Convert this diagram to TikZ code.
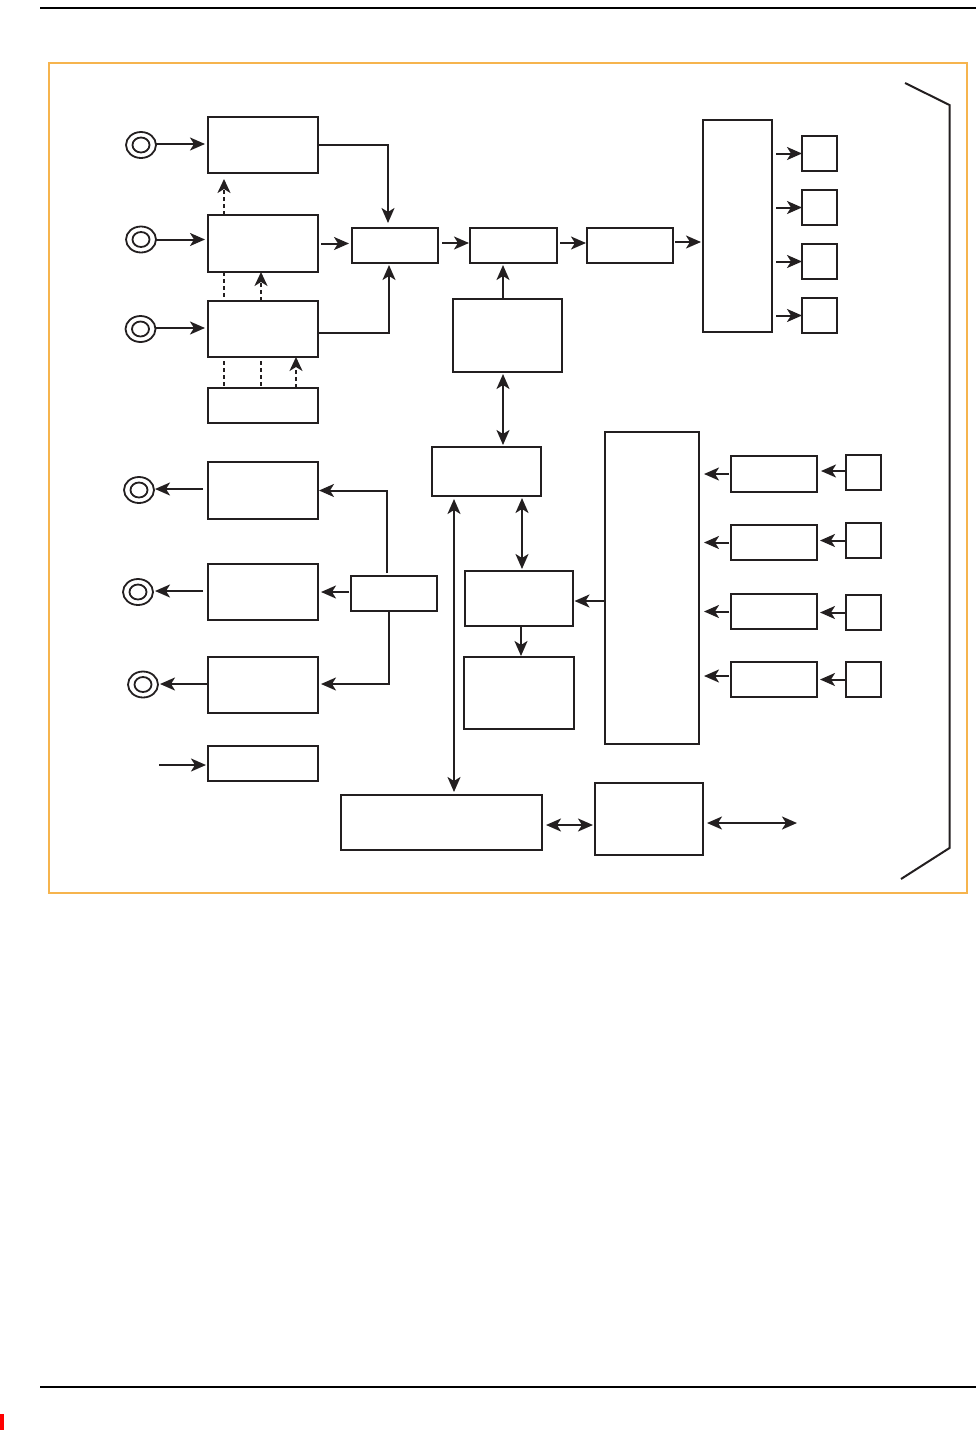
\documentclass[tikz,border=0pt]{standalone}
\usetikzlibrary{arrows.meta,shapes.geometric}
\definecolor{framecol}{HTML}{F6B44E}
\definecolor{inkcol}{HTML}{231F20}
\tikzset{
  blk/.style={draw=inkcol,line width=1.9pt,rectangle,inner sep=0pt,outer sep=0pt},
  ring/.style={draw=inkcol,line width=1.8pt,ellipse,inner sep=0pt,outer sep=0pt},
  link/.style={draw=inkcol,line width=2pt},
  arr/.style={link,-{Stealth[length=15pt,width=13pt,inset=4pt]}},
  dbl/.style={link,{Stealth[length=15pt,width=13pt,inset=4pt]}-{Stealth[length=15pt,width=13pt,inset=4pt]}},
  dsh/.style={line width=2pt,draw=inkcol,dash pattern=on 4pt off 3pt},
  darr/.style={dsh,-{Stealth[length=14pt,width=13pt,inset=4pt]}},
}
\newcommand{\bx}[5]{%
  \pgfmathsetmacro{\bw}{#4-#2}\pgfmathsetmacro{\bh}{#5-#3}%
  \pgfmathsetmacro{\bcx}{(#4+#2)/2}\pgfmathsetmacro{\bcy}{(#5+#3)/2}%
  \node[blk,minimum width=\bw pt,minimum height=\bh pt] (#1) at (\bcx,\bcy) {};}
\newcommand{\jack}[3]{%
  \node[ring,minimum width=30pt,minimum height=26pt] (#1) at (#2,#3) {};
  \node[ring,minimum width=17pt,minimum height=15pt] (#1i) at (#2,#3) {};}
\begin{document}
\begin{tikzpicture}[x=1pt,y=-1pt]
\useasboundingbox (0,0) rectangle (976,1430);
% page furniture
\coordinate (tl) at (40,8); \coordinate (tr) at (976,8);
\coordinate (bl) at (40,1387); \coordinate (br) at (976,1387);
\draw[black,line width=1.6pt] (tl) -- (tr);
\draw[black,line width=1.6pt] (bl) -- (br);
\fill[red] (0,1414) rectangle (4,1430);
\draw[framecol,line width=1.6pt] (49,63) rectangle (967,893);
% bracket
\coordinate (b1) at (905,83); \coordinate (b2) at (949.5,105);
\coordinate (b3) at (949.5,848); \coordinate (b4) at (901,879);
\draw[link] (b1) -- (b2) -- (b3) -- (b4);
% boxes
\bx{A}{208}{117}{318}{173}
\bx{B}{208}{215}{318}{272}
\bx{C}{208}{301}{318}{357}
\bx{D}{208}{388}{318}{423}
\bx{E}{208}{462}{318}{519}
\bx{F}{208}{564}{318}{620}
\bx{G}{208}{657}{318}{713}
\bx{H}{208}{746}{318}{781}
\bx{M}{352}{228}{438}{263}
\bx{N}{470}{228}{557}{263}
\bx{O}{587}{228}{673}{263}
\bx{P}{453}{299}{562}{372}
\bx{Q}{703}{120}{772}{332}
\bx{Ra}{802}{136}{837}{171}
\bx{Rb}{802}{190}{837}{225}
\bx{Rc}{802}{244}{837}{279}
\bx{Rd}{802}{298}{837}{333}
\bx{S}{432}{447}{541}{496}
\bx{T}{605}{432}{699}{744}
\bx{U}{465}{571}{573}{626}
\bx{V}{464}{657}{574}{729}
\bx{W}{351}{576}{437}{611}
\bx{X}{341}{795}{542}{850}
\bx{Y}{595}{783}{703}{855}
\bx{Za}{731}{456}{817}{492}
\bx{Zb}{731}{525}{817}{560}
\bx{Zc}{731}{594}{817}{629}
\bx{Zd}{731}{662}{817}{697}
\bx{Sa}{846}{455}{881}{490}
\bx{Sb}{846}{523}{881}{558}
\bx{Sc}{846}{595}{881}{630}
\bx{Sd}{846}{662}{881}{697}
% jacks
\jack{Ja}{141}{145}
\jack{Jb}{141}{239.5}
\jack{Jc}{140.5}{329}
\jack{Jd}{139}{490}
\jack{Je}{138}{592}
\jack{Jf}{143}{684.5}
% inputs
\draw[arr,shorten >=3pt] ([yshift=1pt]Ja.east) -- ([yshift=1pt]A.west |- Ja.east);
\draw[arr,shorten >=3pt] (Jb.east) -- (B.west |- Jb.east);
\draw[arr,shorten >=3pt] ([yshift=1pt]Jc.east) -- ([yshift=1pt]C.west |- Jc.east);
% to mixer
\draw[arr,shorten >=5pt] (A.east) -| ([xshift=-7pt]M.north);
\draw[arr,shorten <=3pt,shorten >=3pt] (B.east) -- (B.east -| M.west);
\draw[arr,shorten >=2pt] ([yshift=-4pt]C.east) -| ([xshift=-6pt]M.south);
% dashed
\draw[darr,shorten >=6pt] ([xshift=-39pt]A.south |- B.north) -- ([xshift=-39pt]A.south);
\draw[dsh] ([xshift=-39pt]B.south) -- ([xshift=-39pt]C.north);
\draw[darr] ([xshift=-2pt]C.north) -- ([xshift=-2pt]B.south);
\draw[dsh] ([xshift=-39pt,yshift=-4pt]C.south) -- ([xshift=-39pt]D.north);
\draw[dsh] ([xshift=-2pt,yshift=-4pt]C.south) -- ([xshift=-2pt]D.north);
\draw[darr] ([xshift=33pt]D.north) -- ([xshift=33pt]C.south);
% chain
\draw[arr,shorten <=4pt,shorten >=1pt] ([yshift=2.5pt]M.east) -- ([yshift=2.5pt]N.west);
\draw[arr,shorten <=3pt,shorten >=1pt] ([yshift=2.5pt]N.east) -- ([yshift=2.5pt]O.west);
\draw[arr,shorten <=2pt,shorten >=2pt] ([yshift=3.5pt]O.east) -- ([yshift=3.5pt]O.east -| Q.west);
\draw[arr,shorten >=2pt] ([xshift=-4.5pt]P.north) -- ([xshift=-4.5pt]P.north |- N.south);
\draw[dbl,shorten <=2pt,shorten >=2pt] ([xshift=-4.5pt]P.south) -- ([xshift=-4.5pt]P.south |- S.north);
% Q to outputs
\draw[arr,shorten <=4pt] (Ra.west -| Q.east) -- (Ra.west);
\draw[arr,shorten <=4pt] (Rb.west -| Q.east) -- (Rb.west);
\draw[arr,shorten <=4pt] (Rc.west -| Q.east) -- (Rc.west);
\draw[arr,shorten <=4pt] (Rd.west -| Q.east) -- (Rd.west);
% controller
\draw[dbl,shorten <=2pt,shorten >=2pt] ([xshift=35.5pt]S.south) -- ([xshift=3pt]U.north);
\draw[dbl,shorten <=3pt,shorten >=3pt] ([xshift=-32.5pt]S.south) -- ([xshift=12.5pt]X.north);
\draw[arr,shorten >=1.5pt] ([yshift=-2.5pt]T.west |- U.east) -- ([yshift=-2.5pt]U.east);
\draw[arr,shorten >=1pt] ([xshift=2pt]U.south) -- ([xshift=2pt]V.north);
% Z to T
\draw[arr,shorten <=2pt,shorten >=5pt] (Za.west) -- (Za.west -| T.east);
\draw[arr,shorten <=2pt,shorten >=5pt] (Zb.west) -- (Zb.west -| T.east);
\draw[arr,shorten <=2pt,shorten >=5pt] (Zc.west) -- (Zc.west -| T.east);
\draw[arr,shorten <=2pt,shorten >=5pt] ([yshift=3.5pt]Zd.west) -- ([yshift=3.5pt]Zd.west -| T.east);
% small to Z
\draw[arr,shorten >=4pt] ([yshift=1.5pt]Sa.west) -- ([yshift=1.5pt]Sa.west -| Za.east);
\draw[arr,shorten >=3pt] (Sb.west) -- (Sb.west -| Zb.east);
\draw[arr,shorten >=3pt] (Sc.west) -- (Sc.west -| Zc.east);
\draw[arr,shorten >=3pt] (Sd.west) -- (Sd.west -| Zd.east);
% W outputs
\draw[arr,shorten <=3pt,shorten >=1pt] ([xshift=-7pt]W.north) |- (E.east);
\draw[arr,shorten <=2pt,shorten >=3pt] (W.west |- F.east) -- (F.east);
\draw[arr,shorten >=3pt] ([xshift=-5pt]W.south) |- ([yshift=1pt]G.east);
% output jacks
\draw[arr,shorten <=5pt,shorten >=1pt] ([yshift=1.5pt]E.west) -- ([yshift=1.5pt]E.west -| Jd.east);
\draw[arr,shorten <=5pt,shorten >=2pt] ([yshift=1pt]F.west) -- ([yshift=1pt]F.west -| Je.east);
\draw[arr,shorten >=2pt] ([yshift=1pt]G.west) -- ([yshift=1pt]G.west -| Jf.east);
% H input
\coordinate (hin) at (159,765);
\draw[arr,shorten >=2pt] (hin) -- (H.west |- hin);
% bottom
\draw[dbl,shorten <=4pt,shorten >=2pt] ([yshift=-2.5pt]X.east) -- ([yshift=-6pt]Y.west);
\coordinate (yout) at (797,823);
\draw[dbl,shorten <=4pt] (Y.east |- yout) -- (yout);
\end{tikzpicture}
\end{document}
